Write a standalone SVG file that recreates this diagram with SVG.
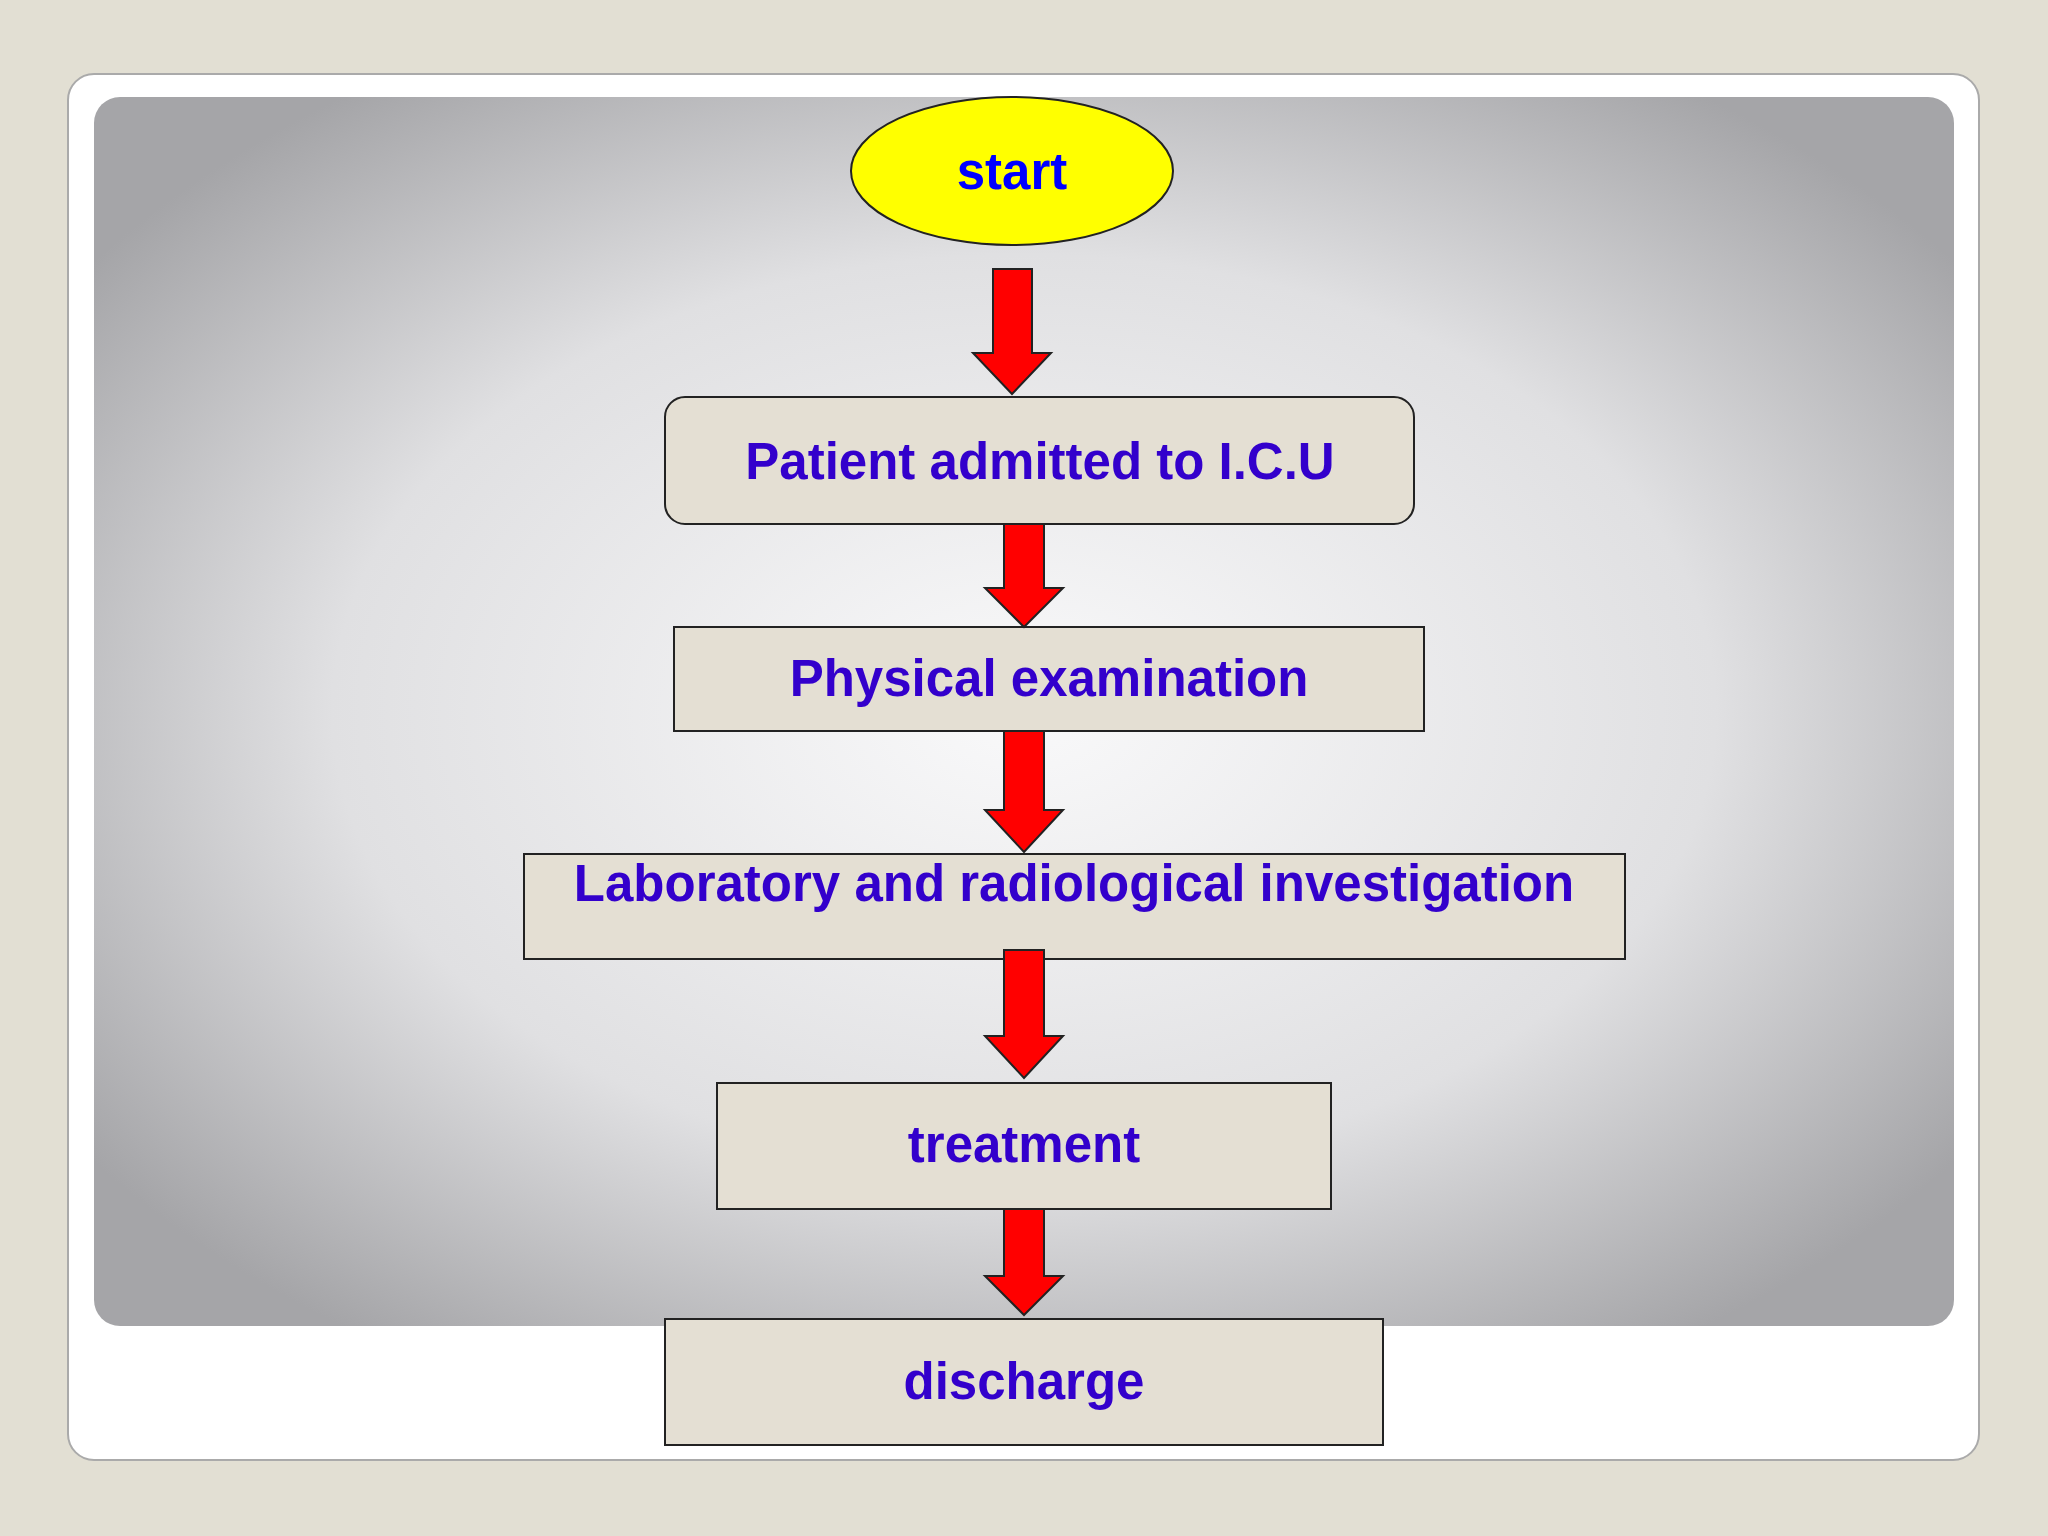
<svg xmlns="http://www.w3.org/2000/svg" width="2048" height="1536" viewBox="0 0 2048 1536">
<defs>
<radialGradient id="g" cx="0.5" cy="0.5" r="0.62">
<stop offset="0" stop-color="#f9f9fa"/><stop offset="0.6" stop-color="#e0e0e2"/><stop offset="1" stop-color="#a5a5a8"/>
</radialGradient>
</defs>
<style>
.box{fill:#e4dfd3;stroke:#222;stroke-width:2}
.t{font-family:"Liberation Sans",Arial,sans-serif;font-weight:bold;font-size:51px;fill:#3300cc;text-anchor:middle}
.arr{fill:#ff0000;stroke:#222;stroke-width:2}
</style>
<rect width="2048" height="1536" fill="#e2dfd3"/>
<rect x="68" y="74" width="1911" height="1386" rx="26" fill="#fff" stroke="#aaa" stroke-width="2"/>
<rect x="94" y="97" width="1860" height="1229" rx="26" fill="url(#g)"/>
<g id="start"><ellipse cx="1012" cy="171" rx="161" ry="74" fill="#ffff00" stroke="#222" stroke-width="2"/><text class="t" x="1012" y="189" style="fill:#0000ff">start</text></g>
<g id="admit"><rect class="box" x="665" y="397" width="749" height="127" rx="20"/><text class="t" x="1040" y="479">Patient admitted to I.C.U</text></g>
<g id="exam"><rect class="box" x="674" y="627" width="750" height="104"/><text class="t" x="1049" y="696">Physical examination</text></g>
<g id="lab"><rect class="box" x="524" y="854" width="1101" height="105"/><text class="t" x="1074" y="901">Laboratory and radiological investigation</text></g>
<g id="treat"><rect class="box" x="717" y="1083" width="614" height="126"/><text class="t" x="1024" y="1162">treatment</text></g>
<g id="discharge"><rect class="box" x="665" y="1319" width="718" height="126"/><text class="t" x="1024" y="1399">discharge</text></g>
<g id="connectors">
<path class="arr" d="M993 269H1032V353H1051L1012 394L973 353H993Z"/>
<path class="arr" d="M1004 524H1044V588H1063L1024 627L985 588H1004Z"/>
<path class="arr" d="M1004 731H1044V810H1063L1024 852L985 810H1004Z"/>
<path class="arr" d="M1004 950H1044V1036H1063L1024 1078L985 1036H1004Z"/>
<path class="arr" d="M1004 1209H1044V1276H1063L1024 1315L985 1276H1004Z"/>
</g>
</svg>
